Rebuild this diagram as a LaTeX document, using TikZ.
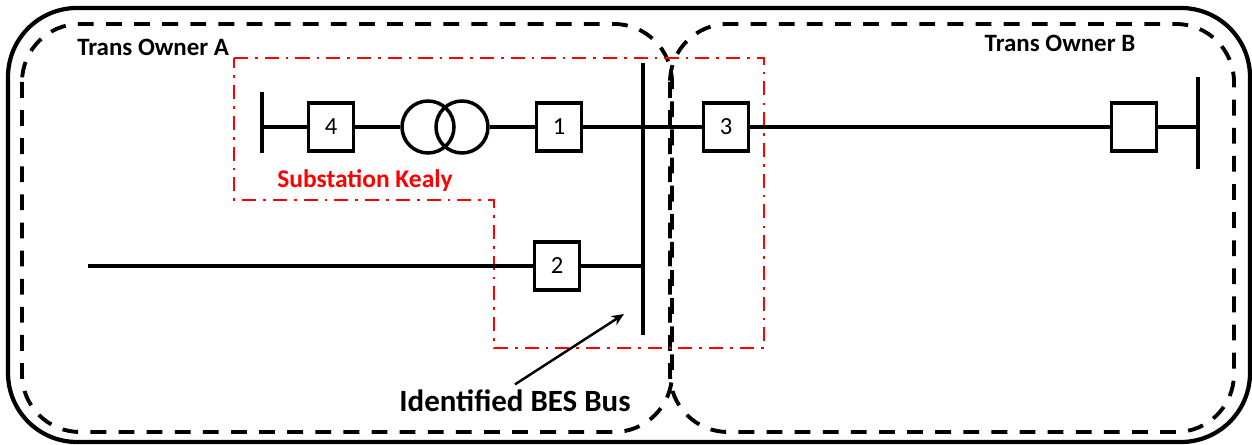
\documentclass[tikz,border=0pt]{standalone}
\usepackage{fontspec}
\setmainfont{Carlito}
\usetikzlibrary{arrows.meta,positioning}

\begin{document}
\begin{tikzpicture}[x=0.02cm, y=-0.02cm,
				breaker/.style={rectangle, draw, line width=2pt, minimum width=0.9cm, minimum height=0.96cm, inner sep=0pt, font=\fontsize{14}{16}\selectfont},
				winding/.style={circle, draw, line width=2pt, minimum size=1.04cm, inner sep=0pt},
				wire/.style={line width=2.2pt},
				busbar/.style={line width=2.6pt},
				owner/.style={line width=2.2pt, dash pattern=on 9pt off 7pt, rounded corners=1.16cm},
				substation/.style={red, line width=1.6pt, dash pattern=on 8pt off 4pt on 1.5pt off 4pt},
				title/.style={inner sep=0pt, font=\bfseries\fontsize{14.2}{16}\selectfont}
				]
				\useasboundingbox (0,0) rectangle (1252,445);
				
				% Cornice e aree dei proprietari
				\draw[line width=2.4pt, rounded corners=1.38cm] (8,8) rectangle (1250,442);
				\draw[owner] (22,24) rectangle (672,432);
				\draw[owner] (670,24) rectangle (1234,432);
				\node[title, anchor=west] (ownerA) at (77,47) {Trans Owner A};
				\node[title] (ownerB) at (1060,43) {Trans Owner B};
				
				% Sottostazione
				\draw[substation] (234,58) -- (764,58) -- (764,348) -- (494,348) -- (494,200) -- (234,200) -- cycle;
				\node[title, red, font=\bfseries\fontsize{14.5}{16}\selectfont] (kealy) at (365,181) {Substation Kealy};
				
				% Sbarre
				\draw[busbar] (262,92) -- (262,153);
				\coordinate (bus4) at (262,127);
				\draw[busbar] (643,63) -- (643,335);
				\coordinate (besbus) at (643,266);
				\draw[busbar] (1198,77) -- (1198,169);
				\coordinate (busB) at (1198,127);
				\coordinate (feeder) at (88,266);
				
				% Interruttori e trasformatore
				\node[breaker] (cb4) at (331,127) {4};
				\node[winding] (tra) at (428,127) {};
				\node[winding] (trb) at (462,127) {};
				\node[breaker] (cb1) at (559,127) {1};
				\node[breaker] (cb3) at (726,127) {3};
				\node[breaker] (cbB) at (1134,127) {};
				\node[breaker] (cb2) at (557,266) {2};
				
				\draw[wire] (bus4) -- (cb4);
				\draw[wire] (cb4) -- (tra);
				\draw[wire] (trb) -- (cb1);
				\draw[wire] (cb1) -- (cb3);
				\draw[wire] (cb3) -- (cbB);
				\draw[wire] (cbB) -- (busB);
				\draw[wire] (feeder) -- (cb2);
				\draw[wire] (cb2) -- (besbus);
				
				% Etichetta della sbarra
				\node[title, inner sep=3pt, font=\bfseries\fontsize{17.6}{20}\selectfont] (beslabel) at (515,401) {Identified BES Bus};
				\coordinate (arrowtip) at (624,314);
				\draw[-{Stealth[length=7pt, width=6pt]}, line width=1.4pt] (beslabel.north) -- (arrowtip);
			\end{tikzpicture}
\end{document}
